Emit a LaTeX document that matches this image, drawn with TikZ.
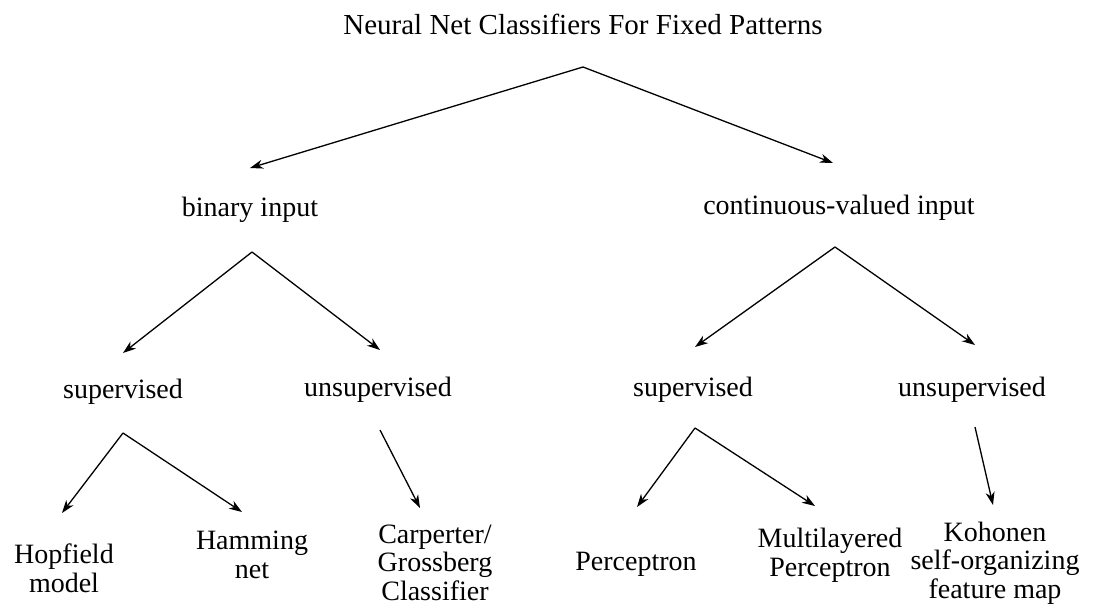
\documentclass[tikz,border=0pt]{standalone}
\usepackage{fontspec}
\setmainfont{Liberation Serif}
\usetikzlibrary{arrows.meta}
\begin{document}
\begin{tikzpicture}[x=1pt,y=-1pt,
  lbl/.style={inner sep=0pt,align=center,font=\fontsize{28}{28.5}\selectfont},
  leaf/.style={lbl,anchor=base},
  ttl/.style={inner sep=0pt,font=\fontsize{29}{31}\selectfont},
  arr/.style={line width=1.3pt,-{Stealth[length=13pt,width=9pt,inset=4pt]}}]
\useasboundingbox[fill=white] (0,0) rectangle (1111,610);
% nodes (leaf nodes are placed at the baseline of their last line)
\node[ttl] (title) at (583,24) {Neural Net Classifiers For Fixed Patterns};
\node[lbl] (bin) at (250,210) {binary input};
\node[lbl] (cont) at (839,208) {continuous-valued input};
\node[lbl] (sup1) at (123,392) {supervised};
\node[lbl] (uns1) at (378,390) {unsupervised};
\node[lbl] (sup2) at (693,390) {supervised};
\node[lbl] (uns2) at (972,390) {unsupervised};
\node[leaf] (hop) at (64,592) {Hopfield\\model};
\node[leaf] (ham) at (252,578) {Hamming\\net};
\node[leaf] (carp) at (435,600) {Carperter/\\Grossberg\\Classifier};
\node[leaf] (perc) at (636,570) {Perceptron};
\node[leaf] (mlp) at (830,576) {Multilayered\\Perceptron};
\node[leaf] (koh) at (995,598) {Kohonen\\self-organizing\\feature map};
% branch points and arrow ends
\coordinate (a0) at (583,67);
\coordinate (a0l) at (250,168);
\coordinate (a0r) at (833,163);
\coordinate (a1) at (252,252);
\coordinate (a1l) at (123,353);
\coordinate (a1r) at (380,350);
\coordinate (a2) at (835,247);
\coordinate (a2l) at (695,347);
\coordinate (a2r) at (975,345);
\coordinate (a3) at (123,433);
\coordinate (a3l) at (62,513);
\coordinate (a3r) at (242,512);
\coordinate (a4) at (380,430);
\coordinate (a4e) at (420,508);
\coordinate (a5) at (695,428);
\coordinate (a5l) at (637,507);
\coordinate (a5r) at (815,506);
\coordinate (a6) at (975,427);
\coordinate (a6e) at (993,505);
% connectors
\draw[arr] (a0) -- (a0l);
\draw[arr] (a0) -- (a0r);
\draw[arr] (a1) -- (a1l);
\draw[arr] (a1) -- (a1r);
\draw[arr] (a2) -- (a2l);
\draw[arr] (a2) -- (a2r);
\draw[arr] (a3) -- (a3l);
\draw[arr] (a3) -- (a3r);
\draw[arr] (a4) -- (a4e);
\draw[arr] (a5) -- (a5l);
\draw[arr] (a5) -- (a5r);
\draw[arr] (a6) -- (a6e);
\end{tikzpicture}
\end{document}
